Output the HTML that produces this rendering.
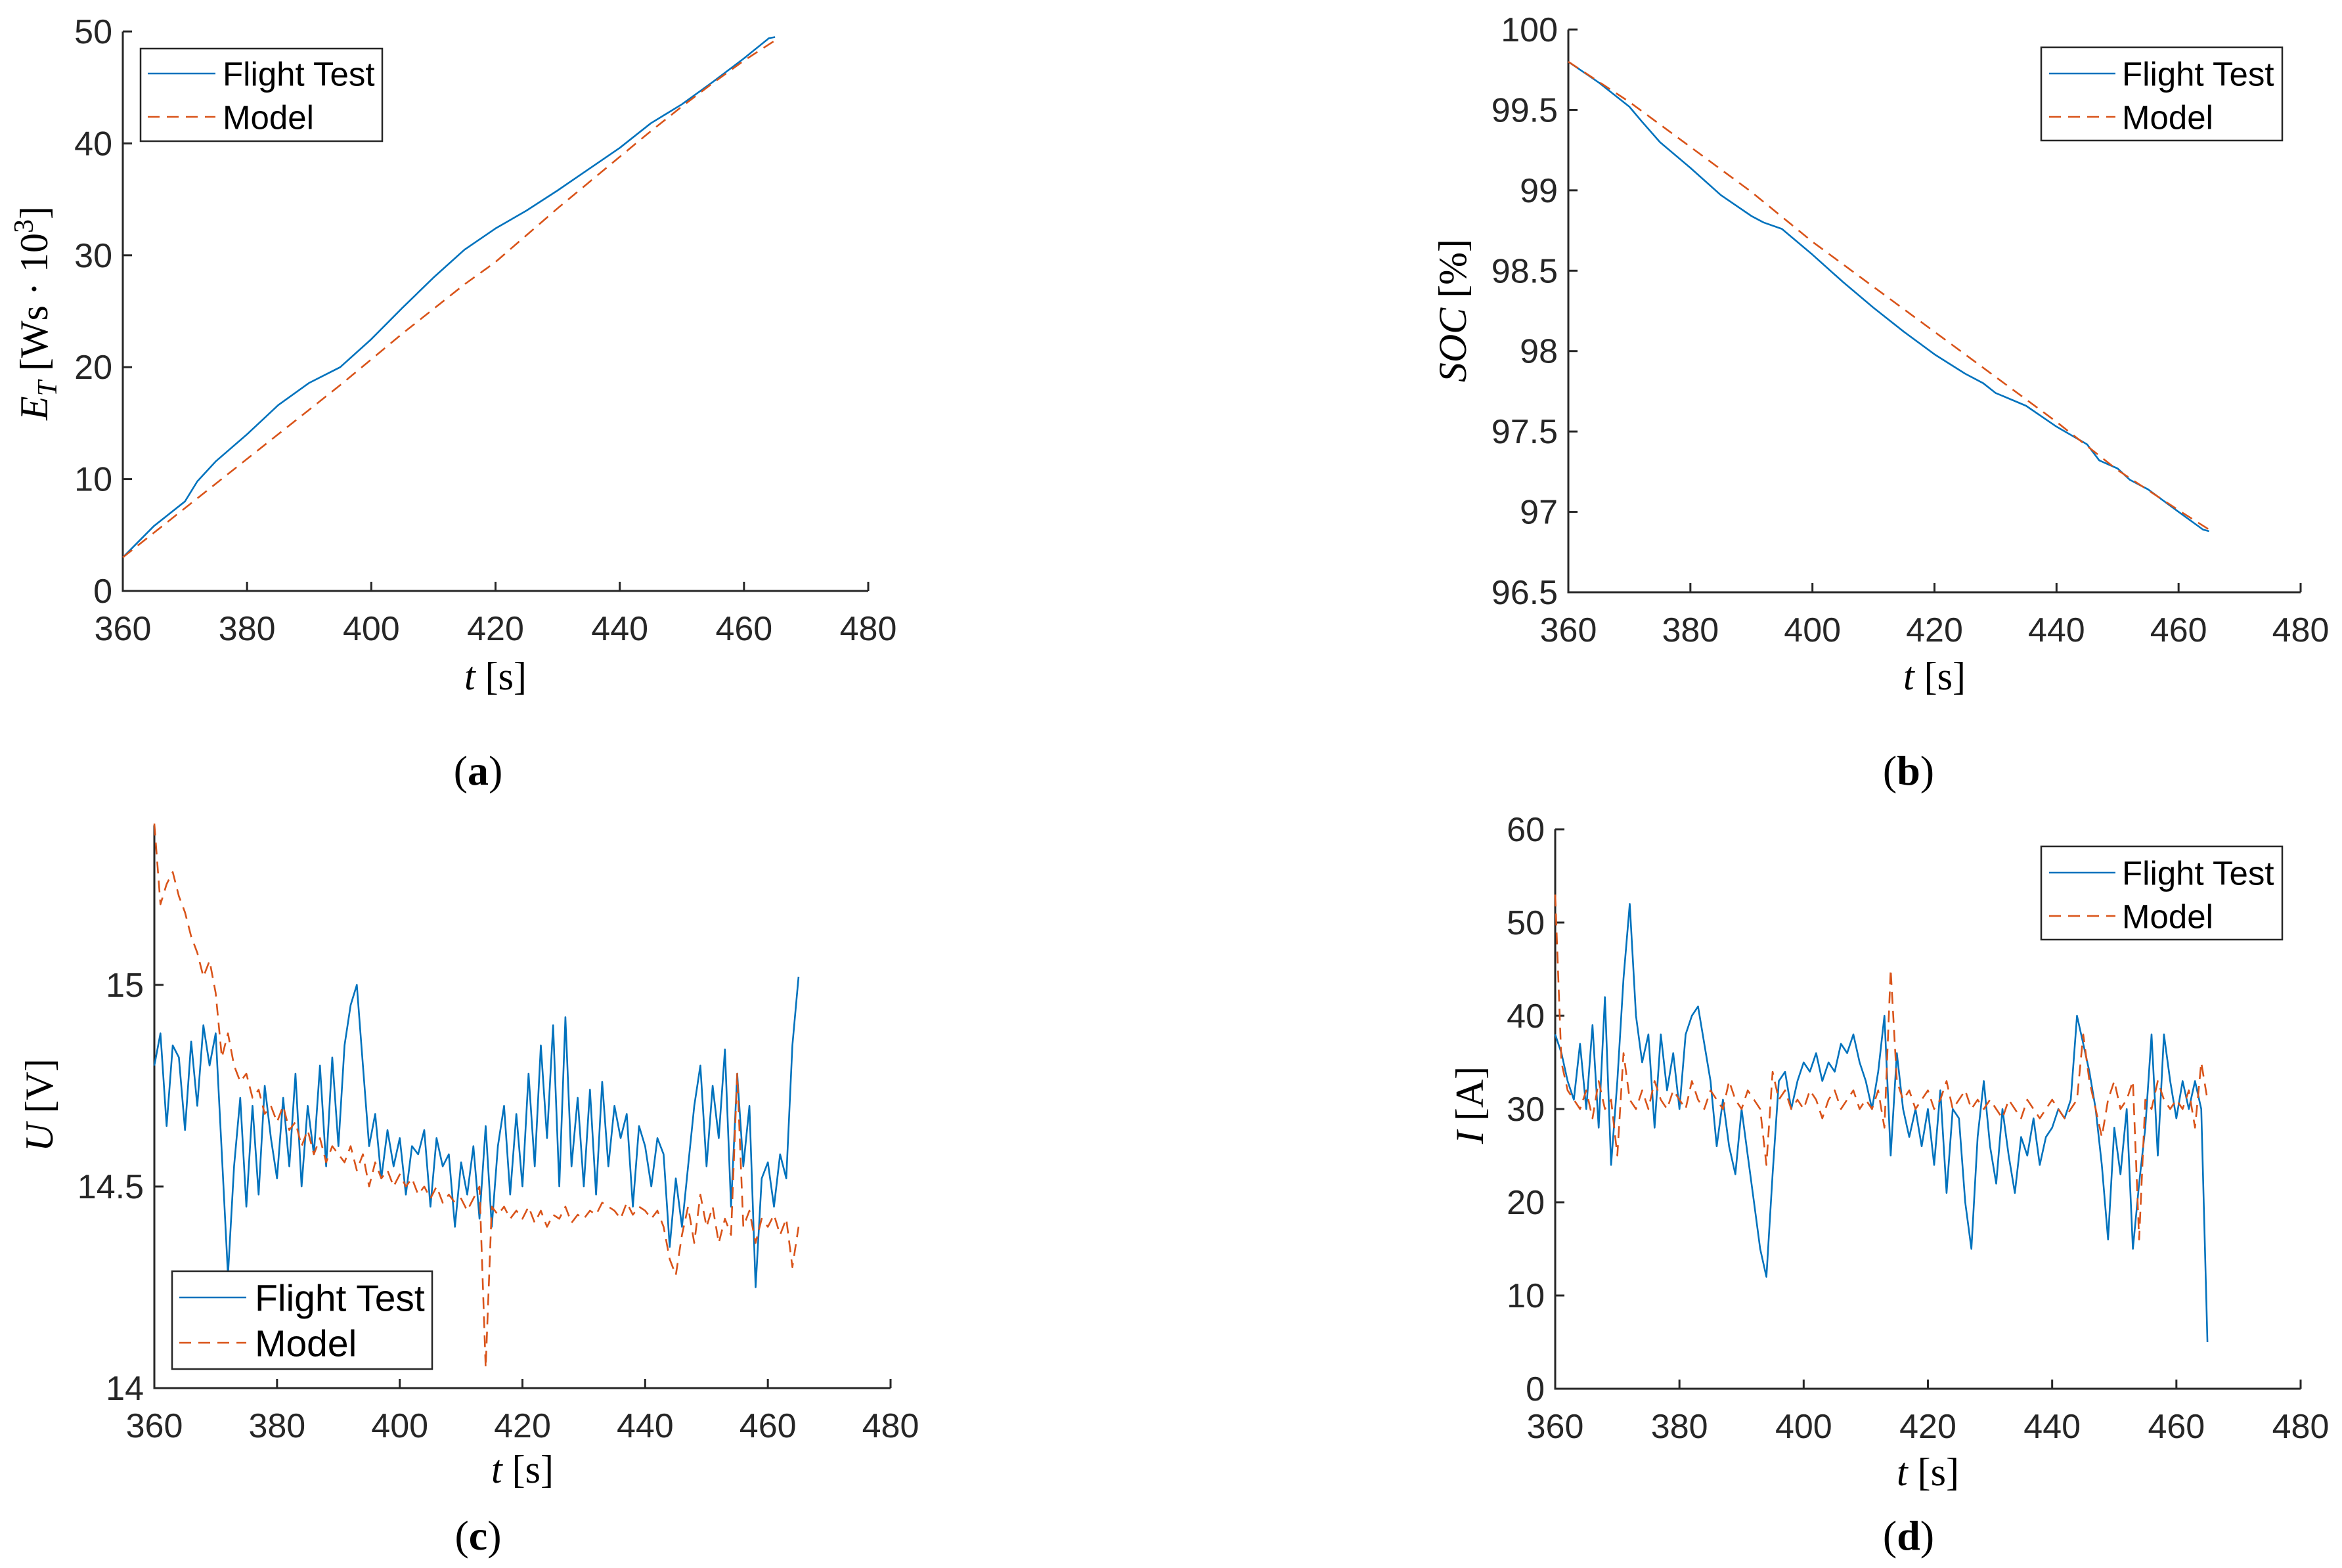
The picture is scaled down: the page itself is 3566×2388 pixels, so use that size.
<!DOCTYPE html>
<html><head><meta charset="utf-8">
<style>
html,body{margin:0;padding:0;background:#fff}
svg{display:block}
.tk{font-family:"Liberation Sans",sans-serif;font-size:52px;fill:#262626}
.lg{font-family:"Liberation Sans",sans-serif;fill:#000}
.lab{font-family:"Liberation Serif",serif;font-size:60px;fill:#000}
.cap{font-family:"Liberation Serif",serif;font-size:64px;fill:#000}
</style></head>
<body>
<svg id="fig" width="3566" height="2388" viewBox="0 0 3566 2388" xmlns="http://www.w3.org/2000/svg">
<text class="cap" x="728" y="1195" text-anchor="middle">(<tspan font-weight="bold">a</tspan>)</text>
<text class="cap" x="2906" y="1195" text-anchor="middle">(<tspan font-weight="bold">b</tspan>)</text>
<text class="cap" x="728" y="2360" text-anchor="middle">(<tspan font-weight="bold">c</tspan>)</text>
<text class="cap" x="2906" y="2360" text-anchor="middle">(<tspan font-weight="bold">d</tspan>)</text>
</svg>
<script>
// ---- Panel (a) energy ----
const tA_flight = [360,365,370,372,375,380,385,390,395,400,405,410,415,420,425,430,435,440,445,450,455,460,464,465];
const eA_flight = [3,5.8,8,9.8,11.6,14,16.6,18.6,20,22.5,25.3,28,30.5,32.4,34,35.8,37.7,39.6,41.8,43.5,45.5,47.6,49.4,49.5];
const tA_model = [360,365,370,375,380,385,390,395,400,405,410,415,420,425,430,435,440,445,450,455,460,465];
const eA_model = [3,5.2,7.4,9.6,11.8,14.0,16.2,18.4,20.7,23.0,25.2,27.4,29.4,31.8,34.2,36.5,38.8,41.1,43.3,45.4,47.4,49.2];
const yTicksA = [0,10,20,30,40,50];
// ---- Panel (b) SOC ----
const tB_flight = [360,365,370,372,375,380,385,390,392,395,400,405,410,415,420,425,428,430,435,440,445,447,450,452,455,460,464,465];
const sB_flight = [99.8,99.67,99.52,99.43,99.3,99.14,98.97,98.84,98.8,98.76,98.6,98.43,98.27,98.12,97.98,97.86,97.8,97.74,97.66,97.53,97.42,97.32,97.27,97.2,97.14,97.0,96.89,96.88];
const tB_model = [360,370,380,390,400,410,420,430,440,450,460,465];
const sB_model = [99.8,99.55,99.27,98.99,98.68,98.4,98.12,97.84,97.56,97.26,97.01,96.89];
const yTicksB = [96.5,97,97.5,98,98.5,99,99.5,100];
// ---- Panel (c) voltage, one sample per second from 360 s ----
const uC_flight = [14.80,14.88,14.65,14.85,14.82,14.64,14.86,14.70,14.90,14.80,
14.88,14.58,14.28,14.55,14.72,14.45,14.70,14.48,14.75,14.62,
14.52,14.72,14.55,14.78,14.50,14.70,14.58,14.80,14.55,14.82,
14.60,14.85,14.95,15.00,14.80,14.60,14.68,14.52,14.64,14.55,
14.62,14.48,14.60,14.58,14.64,14.45,14.62,14.55,14.58,14.40,
14.56,14.48,14.60,14.42,14.65,14.40,14.60,14.70,14.48,14.68,
14.50,14.78,14.55,14.85,14.62,14.90,14.50,14.92,14.55,14.72,
14.50,14.74,14.48,14.76,14.55,14.70,14.62,14.68,14.45,14.65,
14.60,14.50,14.62,14.58,14.35,14.52,14.40,14.55,14.70,14.80,
14.55,14.75,14.62,14.84,14.45,14.78,14.55,14.70,14.25,14.52,
14.56,14.45,14.58,14.52,14.85,15.02];
const uC_model = [15.40,15.20,15.25,15.28,15.22,15.18,15.12,15.08,15.02,15.06,
14.98,14.82,14.88,14.80,14.76,14.78,14.72,14.74,14.68,14.70,
14.66,14.70,14.64,14.66,14.60,14.64,14.58,14.62,14.56,14.60,
14.58,14.56,14.60,14.54,14.58,14.50,14.56,14.52,14.54,14.50,
14.53,14.50,14.52,14.48,14.50,14.47,14.50,14.46,14.48,14.46,
14.47,14.44,14.47,14.50,14.05,14.45,14.43,14.45,14.42,14.44,
14.42,14.45,14.41,14.44,14.40,14.43,14.42,14.45,14.41,14.43,
14.42,14.44,14.43,14.46,14.45,14.44,14.42,14.46,14.43,14.45,
14.44,14.42,14.44,14.40,14.32,14.28,14.38,14.45,14.36,14.48,
14.40,14.45,14.36,14.42,14.38,14.78,14.40,14.44,14.36,14.42,
14.40,14.43,14.38,14.42,14.30,14.40];
const yTicksC = [14,14.5,15];
// ---- Panel (d) current, one sample per second from 360 s ----
const iD_flight = [38,36,33,31,37,30,39,28,42,24,
33,44,52,40,35,38,28,38,32,36,
30,38,40,41,37,33,26,31,26,23,
30,25,20,15,12,23,33,34,30,33,
35,34,36,33,35,34,37,36,38,35,
33,30,34,40,25,36,30,27,30,26,
30,24,32,21,30,29,20,15,27,33,
26,22,30,25,21,27,25,29,24,27,
28,30,29,31,40,37,34,30,24,16,
28,23,30,15,22,28,38,25,38,33,
29,33,30,33,30,5];
const iD_model = [53,35,32,31,30,32,29,33,30,31,
25,36,31,30,32,30,33,31,30,32,
31,30,33,31,30,32,31,30,33,31,
30,32,31,30,24,34,31,32,30,31,
30,32,31,29,31,32,30,31,32,30,
31,30,32,28,45,33,31,32,30,31,
32,30,31,33,30,31,32,30,31,30,
31,30,29,31,30,29,31,30,29,30,
31,30,29,30,31,38,33,30,27,31,
33,30,31,33,16,31,30,33,31,30,
31,30,32,28,35,31];
const yTicksD = [0,10,20,30,40,50,60];
const xTicks = [360,380,400,420,440,460,480];

const NS = 'http://www.w3.org/2000/svg';
const svg = document.getElementById('fig');
function mk(tag, attrs, parent){
  const e = document.createElementNS(NS, tag);
  for (const k in attrs) e.setAttribute(k, attrs[k]);
  (parent||svg).appendChild(e);
  return e;
}
function secs(arr){ const o=[]; for(let i=0;i<arr.length;i++) o.push(360+i); return o; }

function panel(id, P){
  const g = mk('g', {});
  
  
  const sx = v => P.x0 + (v-360)/(480-360)*(P.x1-P.x0);
  const sy = v => P.yb + (v-P.ymin)/(P.ymax-P.ymin)*(P.yt-P.yb);
  const ax = mk('path', {d:`M${P.x0},${P.ytop} V${P.yb} H${P.x1}`, fill:'none', stroke:'#262626', 'stroke-width':3}, g);
  
  
  xTicks.forEach(v=>{
    const x = sx(v);
    const tk = mk('line', {x1:x, x2:x, y1:P.yb, y2:P.yb-14, stroke:'#262626','stroke-width':3}, g);
    
    
    const t = mk('text', {x:x, y:P.yb+75, 'text-anchor':'middle', class:'tk'}, g);
    
    
    t.textContent = v;
  });
  P.yticks.forEach(v=>{
    const y = sy(v);
    const tk = mk('line', {x1:P.x0, x2:P.x0+14, y1:y, y2:y, stroke:'#262626','stroke-width':3}, g);
    
    
    const t = mk('text', {x:P.x0-16, y:y+18, 'text-anchor':'end', class:'tk'}, g);
    
    
    t.textContent = v;
  });
  P.series.forEach(s=>{
    let d='';
    s.t.forEach((tv,i)=>{ d += (i?'L':'M') + sx(tv).toFixed(1) + ',' + sy(s.v[i]).toFixed(1); });
    const p = mk('path', {d:d, fill:'none', stroke:s.color, 'stroke-width':2.6, 'stroke-linejoin':'round'}, g);
    if (s.dash) p.setAttribute('stroke-dasharray', '18,11');
    
    
  });
  const xl = mk('text', {x:(P.x0+P.x1)/2, y:P.xlY, 'text-anchor':'middle', class:'lab'}, g);
  
  
  xl.innerHTML = '<tspan font-style="italic">t</tspan> [s]';
  const yl = mk('text', {x:0, y:0, 'text-anchor':'middle', class:'lab', transform:`translate(${P.ylX},${P.ylY}) rotate(-90)`}, g);
  
  
  yl.innerHTML = P.ylab;
  const L = P.leg;
  const lg = mk('g', {}, g);
  
  
  mk('rect', {x:L.x, y:L.y, width:L.w, height:L.h, fill:'#fff', stroke:'#262626', 'stroke-width':2.5}, lg);
  [['Flight Test','#0072BD',false,'legend-entry-flight-test'],['Model','#D95319',true,'legend-entry-model']].forEach((e,i)=>{
    const ry = L.rows[i];
    const ln = mk('line', {x1:L.lx0, x2:L.lx1, y1:ry, y2:ry, stroke:e[1], 'stroke-width':2.6}, lg);
    if (e[2]) ln.setAttribute('stroke-dasharray','18,11');
    
    
    const t = mk('text', {x:L.tx, y:ry+L.fs*0.36, class:'lg', 'font-size':L.fs}, lg);
    
    
    t.textContent = e[0];
  });
}

panel('a', {x0:187,x1:1322,yb:900,yt:48,ytop:48,ymin:0,ymax:50,yticks:yTicksA,
  series:[{t:tA_flight,v:eA_flight,color:'#0072BD',name:'series-flight-test'},{t:tA_model,v:eA_model,color:'#D95319',dash:true,name:'series-model'}],
  xlY:1050, ylX:72, ylY:477, ylab:'<tspan font-style="italic">E</tspan><tspan font-style="italic" font-size="42" dy="14">T</tspan><tspan dy="-14"> [Ws · 10</tspan><tspan font-size="42" dy="-22">3</tspan><tspan dy="22">]</tspan>',
  leg:{x:214,y:74,w:368,h:141,lx0:225,lx1:328,tx:339,rows:[112,178],fs:51}});
panel('b', {x0:2388,x1:3503,yb:902,yt:45,ytop:45,ymin:96.5,ymax:100,yticks:yTicksB,
  series:[{t:tB_flight,v:sB_flight,color:'#0072BD',name:'series-flight-test'},{t:tB_model,v:sB_model,color:'#D95319',dash:true,name:'series-model'}],
  xlY:1050, ylX:2232, ylY:473, ylab:'<tspan font-style="italic">SOC</tspan> [%]',
  leg:{x:3108,y:72,w:367,h:142,lx0:3120,lx1:3221,tx:3231,rows:[112,178],fs:51}});
panel('c', {x0:235,x1:1356,yb:2114,yt:1500,ytop:1257,ymin:14,ymax:15,yticks:yTicksC,
  series:[{t:secs(uC_flight),v:uC_flight,color:'#0072BD',name:'series-flight-test'},{t:secs(uC_model),v:uC_model,color:'#D95319',dash:true,name:'series-model'}],
  xlY:2258, ylX:80, ylY:1683, ylab:'<tspan font-style="italic">U</tspan> [V]',
  leg:{x:262,y:1936,w:396,h:149,lx0:273,lx1:375,tx:388,rows:[1976,2045],fs:57}});
panel('d', {x0:2368,x1:3503,yb:2115,yt:1263,ytop:1263,ymin:0,ymax:60,yticks:yTicksD,
  series:[{t:secs(iD_flight),v:iD_flight,color:'#0072BD',name:'series-flight-test'},{t:secs(iD_model),v:iD_model,color:'#D95319',dash:true,name:'series-model'}],
  xlY:2262, ylX:2258, ylY:1683, ylab:'<tspan font-style="italic">I</tspan> [A]',
  leg:{x:3108,y:1289,w:367,h:142,lx0:3120,lx1:3221,tx:3231,rows:[1329,1395],fs:51}});
</script>
</body></html>
